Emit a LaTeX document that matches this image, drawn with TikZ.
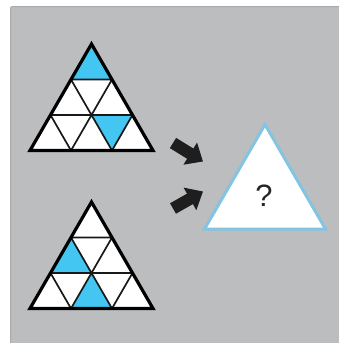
\documentclass[tikz,border=0pt]{standalone}
\usepackage{fontspec}
\newfontfamily\qfont{Liberation Sans}
\usetikzlibrary{arrows.meta}
\definecolor{bggray}{HTML}{BCBDBF}
\definecolor{bgedge}{HTML}{A9AAAC}
\definecolor{cellcyan}{HTML}{43C6F2}
\definecolor{qblue}{HTML}{82C4E2}
\definecolor{arrowblk}{HTML}{1E1E1E}
\newcommand\PQ[2]{({20.5*((#2)-(#1))},{35.5*((#1)+(#2))})}
\begin{document}
\begin{tikzpicture}[x=1bp,y=-1bp,
  outerline/.style={line width=3.2bp,line join=miter,draw=black},
  innerline/.style={line width=1.7bp,draw=black!90},
  cellfill/.style={fill=cellcyan},
  blockarrow/.style={draw=arrowblk,line width=12bp,-{Triangle[width=25bp,length=15bp]},fill=arrowblk}]
\useasboundingbox (0,0) rectangle (339,343);
\fill[white] (0,0) rectangle (339,343);
\draw[fill=bggray,draw=bgedge,line width=1bp,rounded corners=2bp] (10.5,6.5) -- (345,6.5) -- (345,350) -- (10.5,350) -- cycle;
% top grid
\begin{scope}[shift={(91.5,44)}]
  \fill[white] \PQ{0}{0} -- \PQ{3}{0} -- \PQ{0}{3} -- cycle;
  \fill[cellfill] \PQ{0}{0} -- \PQ{1}{0} -- \PQ{0}{1} -- cycle;
  \fill[cellfill] \PQ{1}{1} -- \PQ{0}{2} -- \PQ{1}{2} -- cycle;
  \draw[innerline] \PQ{1}{0} -- \PQ{0}{1} \PQ{2}{0} -- \PQ{0}{2}
    \PQ{0}{1} -- \PQ{2}{1} \PQ{0}{2} -- \PQ{1}{2}
    \PQ{1}{0} -- \PQ{1}{2} \PQ{2}{0} -- \PQ{2}{1};
  \draw[outerline] \PQ{0}{0} -- \PQ{3}{0} -- \PQ{0}{3} -- cycle;
\end{scope}
% bottom grid
\begin{scope}[shift={(91.5,202)}]
  \fill[white] \PQ{0}{0} -- \PQ{3}{0} -- \PQ{0}{3} -- cycle;
  \fill[cellfill] \PQ{1}{0} -- \PQ{2}{0} -- \PQ{1}{1} -- cycle;
  \fill[cellfill] \PQ{1}{1} -- \PQ{2}{1} -- \PQ{1}{2} -- cycle;
  \draw[innerline] \PQ{1}{0} -- \PQ{0}{1} \PQ{2}{0} -- \PQ{0}{2}
    \PQ{0}{1} -- \PQ{2}{1} \PQ{0}{2} -- \PQ{1}{2}
    \PQ{1}{0} -- \PQ{1}{2} \PQ{2}{0} -- \PQ{2}{1};
  \draw[outerline] \PQ{0}{0} -- \PQ{3}{0} -- \PQ{0}{3} -- cycle;
\end{scope}
% answer triangle
\draw[draw=qblue,fill=white,line width=3bp,line join=miter] (265,124.5) -- (325.5,229) -- (204.5,229) -- cycle;
\node[font=\qfont\fontsize{31}{31}\selectfont,text=black!85,inner sep=0pt] (q) at (264,196) {?};
% arrows
\coordinate (a1s) at (173,143);
\coordinate (a1e) at (203,161.5);
\coordinate (a2s) at (173,208.5);
\coordinate (a2e) at (203,191.5);
\draw[blockarrow] (a1s) -- (a1e);
\draw[blockarrow] (a2s) -- (a2e);
\end{tikzpicture}
\end{document}
